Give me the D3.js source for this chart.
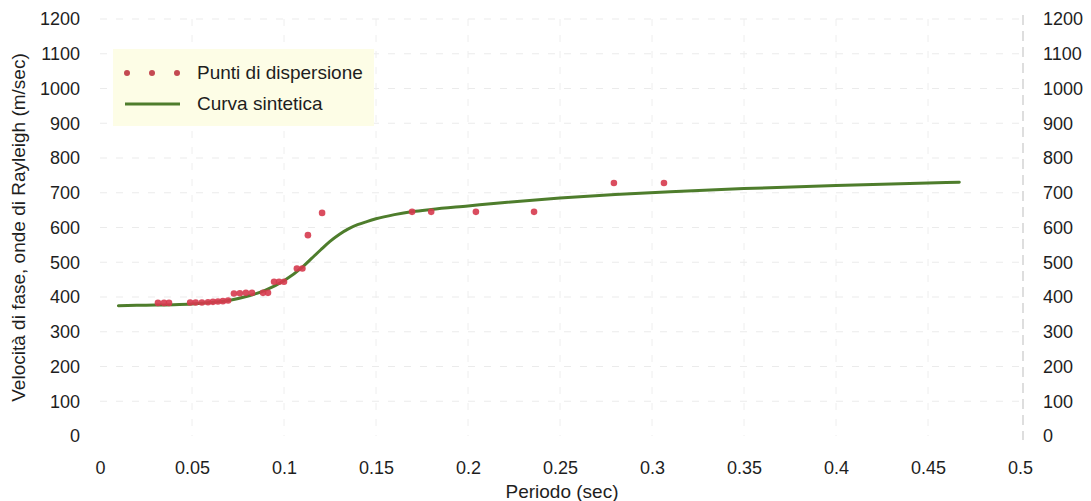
<!DOCTYPE html>
<html>
<head>
<meta charset="utf-8">
<script src="https://cdn.jsdelivr.net/npm/d3@7"></script>
<style>
  body { margin: 0; background: #fff; }
  svg { display: block; font-family: "Liberation Sans", Arial, sans-serif; }
</style>
</head>
<body>
<svg id="chart" width="1091" height="501"></svg>
<script>
// Dispersion points (period in s, Rayleigh phase velocity in m/s)
const pointPeriods = [0.0315, 0.0348, 0.0375,
  0.049, 0.052, 0.0554, 0.0587, 0.0614, 0.0641, 0.0668, 0.0696,
  0.0728, 0.076, 0.0793, 0.0826, 0.0886, 0.0913,
  0.0946, 0.0973, 0.100,
  0.107, 0.110,
  0.113, 0.1207, 0.1696, 0.180, 0.2043, 0.2359, 0.2793, 0.3065];
const pointVelocities = [383, 383, 383,
  384, 384, 384, 385, 386, 387, 388, 390,
  410, 411, 412, 412, 412, 412,
  444, 444, 444,
  482, 482,
  578, 642, 645, 645, 645, 645, 728, 728];

// Synthetic dispersion curve
const curvePeriods = [0.01, 0.02, 0.03, 0.04, 0.05, 0.06, 0.07, 0.08, 0.09, 0.10,
  0.11, 0.115, 0.12, 0.125, 0.13, 0.135, 0.14, 0.145, 0.15, 0.16, 0.17, 0.18, 0.20,
  0.22, 0.25, 0.28, 0.31, 0.35, 0.40, 0.45, 0.467];
const curveVelocities = [375, 376, 377, 378, 380, 384, 390, 402, 420, 447,
  486, 511, 536, 560, 580, 596, 608, 617, 625, 637, 646, 652, 662,
  672, 685, 695, 703, 712, 721, 728, 730];

const xTicks = [0, 0.05, 0.1, 0.15, 0.2, 0.25, 0.3, 0.35, 0.4, 0.45, 0.5];
const yTicks = [0, 100, 200, 300, 400, 500, 600, 700, 800, 900, 1000, 1100, 1200];

const legendLabels = ["Punti di dispersione", "Curva sintetica"];
const xTitle = "Periodo (sec)";
const yTitle = "Velocità di fase, onde di Rayleigh (m/sec)";

const svg = d3.select("#chart");
const plotLeft = 100, plotRight = 1020, plotTop = 19, plotBottom = 436;

const x = d3.scaleLinear().domain([0, 0.5]).range([plotLeft, plotRight]);
const y = d3.scaleLinear().domain([0, 1200]).range([plotBottom, plotTop]);

const pointColor = "#d63a4e";
const lineColor = "#4e7d2c";
const textColor = "#1e1e1e";

// Grid
const grid = svg.append("g");
grid.selectAll("line.h").data(yTicks.filter(d => d > 0)).join("line")
  .attr("class", "h")
  .attr("x1", plotLeft).attr("x2", plotRight)
  .attr("y1", d => y(d)).attr("y2", d => y(d))
  .attr("stroke", "#ebebeb").attr("stroke-width", 1)
  .attr("stroke-dasharray", "7,9");
grid.selectAll("line.v").data(xTicks.filter(d => d > 0 && d < 0.5)).join("line")
  .attr("class", "v")
  .attr("x1", d => x(d)).attr("x2", d => x(d))
  .attr("y1", plotTop).attr("y2", plotBottom)
  .attr("stroke", "#eeeeee").attr("stroke-width", 1)
  .attr("stroke-dasharray", "7,9");
// Right frame
svg.append("line")
  .attr("x1", x(0.5) + 3).attr("x2", x(0.5) + 3)
  .attr("y1", plotTop - 4).attr("y2", plotBottom + 4)
  .attr("stroke", "#d4d4d4").attr("stroke-width", 1.5)
  .attr("stroke-dasharray", "10,6");

// Axes (labels only)
const axisStyle = g => {
  g.select(".domain").remove();
  g.selectAll(".tick line").remove();
  g.selectAll(".tick text").attr("fill", textColor)
    .style("font-size", "18px")
    .style("font-family", "'Liberation Sans', Arial, sans-serif");
};
svg.append("g").attr("transform", `translate(0,${plotBottom + 22})`)
  .call(d3.axisBottom(x).tickValues(xTicks).tickFormat(d3.format("~g")).tickSize(0))
  .call(axisStyle);
svg.append("g").attr("transform", `translate(${plotLeft - 17},0)`)
  .call(d3.axisLeft(y).tickValues(yTicks).tickFormat(d3.format("d")).tickSize(0))
  .call(axisStyle);
svg.append("g").attr("transform", `translate(${plotRight + 20},0)`)
  .call(d3.axisRight(y).tickValues(yTicks).tickFormat(d3.format("d")).tickSize(0))
  .call(axisStyle);

// Axis titles
svg.append("text").attr("x", (plotLeft + plotRight) / 2 + 2).attr("y", 498)
  .attr("text-anchor", "middle").attr("fill", textColor)
  .style("font-size", "19px").text(xTitle);
svg.append("text")
  .attr("transform", `translate(25,${(plotTop + plotBottom) / 2}) rotate(-90)`)
  .attr("text-anchor", "middle").attr("fill", textColor)
  .style("font-size", "19px").text(yTitle);

// Synthetic curve
const line = d3.line()
  .x((d, i) => x(curvePeriods[i]))
  .y(d => y(d))
  .curve(d3.curveMonotoneX);
svg.append("path").datum(curveVelocities)
  .attr("d", line)
  .attr("fill", "none").attr("stroke", lineColor)
  .attr("stroke-width", 3).attr("stroke-linecap", "round");

// Dispersion points
svg.append("g").selectAll("circle").data(pointVelocities).join("circle")
  .attr("cx", (d, i) => x(pointPeriods[i]))
  .attr("cy", d => y(d))
  .attr("r", 3.3)
  .attr("fill", pointColor).attr("opacity", 0.9);

// Legend
const lg = svg.append("g");
lg.append("rect").attr("x", 113).attr("y", 49).attr("width", 261).attr("height", 77)
  .attr("fill", "#fdfde6");
[127, 152, 177].forEach(cx => lg.append("circle").attr("cx", cx).attr("cy", 73)
  .attr("r", 3).attr("fill", "#c44a52"));
lg.append("line").attr("x1", 125).attr("x2", 180).attr("y1", 104).attr("y2", 104)
  .attr("stroke", lineColor).attr("stroke-width", 3);
lg.selectAll("text").data(legendLabels).join("text")
  .attr("x", 197).attr("y", (d, i) => 79 + i * 31)
  .attr("fill", textColor).style("font-size", "19px").text(d => d);
</script>
</body>
</html>
